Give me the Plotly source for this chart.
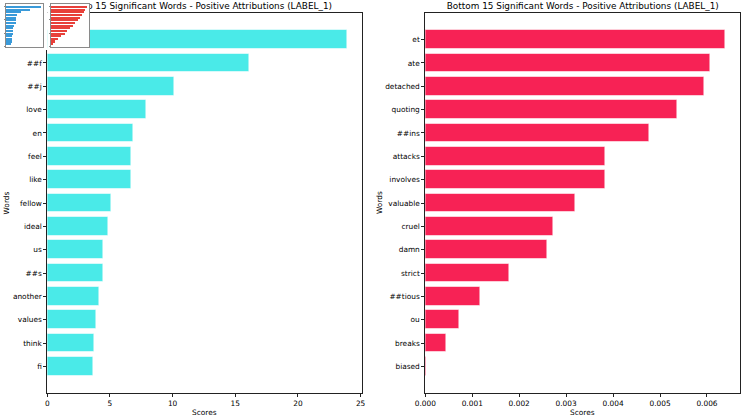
import plotly.graph_objects as go

W, H = 743, 417

# ---------------- data ----------------
top_words = ["good", "##f", "##j", "love", "en", "feel", "like", "fellow", "ideal",
             "us", "##s", "another", "values", "think", "fi"]
top_scores = [23.94, 16.10, 10.10, 7.90, 6.85, 6.72, 6.67, 5.13, 4.89,
              4.49, 4.47, 4.12, 3.88, 3.78, 3.70]

bottom_words = ["et", "ate", "detached", "quoting", "##ins", "attacks", "involves",
                "valuable", "cruel", "damn", "strict", "##tious", "ou", "breaks", "biased"]
bottom_scores = [0.00639, 0.00607, 0.00595, 0.00536, 0.00477, 0.00383, 0.00383,
                 0.00320, 0.00272, 0.00260, 0.00179, 0.00118, 0.00072, 0.00045, 0.00003]

left_title = "Top 15 Significant Words - Positive Attributions (LABEL_1)"
right_title = "Bottom 15 Significant Words - Positive Attributions (LABEL_1)"
x_label = "Scores"
y_label = "Words"

# thumbnails (small images overlapping the top-left corner)
thumb_rank = list(range(15))
thumb_blue_scores = [100, 67, 42, 30, 28.5, 28, 27.5, 21.5, 20.5, 19, 18.5, 17, 16, 15.8, 15.5]
thumb_red_scores = [110, 105, 100, 95, 88, 82, 75, 67, 58, 50, 42, 31, 20, 13, 5]

# ---------------- styling helpers ----------------
def fx(px):
    return px / W

def fy(py):
    return 1 - py / H

FONT = "DejaVu Sans"
TICK = 7.4
CYAN = "#4AEAE8"
RED = "#F72255"

PLOT_TOP, PLOT_BOT = 13, 393
L_X0, L_X1 = 47.3, 362.3
R_X0, R_X1 = 425.3, 740.3

fig = go.Figure()

# main bars
fig.add_trace(go.Bar(x=top_scores, y=top_words, orientation="h", width=0.8,
                     marker=dict(color=CYAN, line=dict(color="rgba(255,255,255,0.55)", width=1)),
                     xaxis="x", yaxis="y", hoverinfo="skip"))
fig.add_trace(go.Bar(x=bottom_scores, y=bottom_words, orientation="h", width=0.8,
                     marker=dict(color=RED, line=dict(color="rgba(255,255,255,0.55)", width=1)),
                     xaxis="x2", yaxis="y2", hoverinfo="skip"))

# titles (as text in thin strips so the thumbnails can cover them)
fig.add_trace(go.Scatter(x=[0.5], y=[0.5], mode="text", text=[left_title],
                         textfont=dict(family=FONT, size=8.9, color="black"),
                         cliponaxis=False, xaxis="x3", yaxis="y3", hoverinfo="skip"))
fig.add_trace(go.Scatter(x=[0.5], y=[0.5], mode="text", text=[right_title],
                         textfont=dict(family=FONT, size=8.9, color="black"),
                         cliponaxis=False, xaxis="x4", yaxis="y4", hoverinfo="skip"))

# thumbnail covers (empty subplots whose white backgrounds hide what lies under)
fig.add_trace(go.Scatter(x=[], y=[], xaxis="x5", yaxis="y5", hoverinfo="skip"))
fig.add_trace(go.Scatter(x=[], y=[], xaxis="x6", yaxis="y6", hoverinfo="skip"))
# thumbnail bars
fig.add_trace(go.Bar(x=thumb_blue_scores, y=thumb_rank, orientation="h", width=0.8,
                     marker=dict(color="#3A9AD9", line=dict(width=0)),
                     xaxis="x7", yaxis="y7", hoverinfo="skip"))
fig.add_trace(go.Bar(x=thumb_red_scores, y=thumb_rank, orientation="h", width=0.8,
                     marker=dict(color="#E8403A", line=dict(width=0)),
                     xaxis="x8", yaxis="y8", hoverinfo="skip"))

def main_x(domain, rng, dtick, fmt):
    return dict(domain=domain, range=rng, dtick=dtick, tick0=0, tickformat=fmt,
                showline=True, linecolor="#222", linewidth=1, mirror=True,
                ticks="outside", ticklen=3, tickwidth=1, tickcolor="#222",
                showgrid=False, zeroline=False, automargin=False,
                tickfont=dict(family=FONT, size=TICK, color="black"))

def main_y(domain, words, anchor):
    return dict(domain=domain, type="category", categoryorder="array",
                categoryarray=words[::-1], range=[-1.14, len(words) - 1 + 1.14],
                showline=True, linecolor="#222", linewidth=1, mirror=True,
                ticks="outside", ticklen=3, tickwidth=1, tickcolor="#222",
                showgrid=False, zeroline=False, anchor=anchor, automargin=False,
                tickfont=dict(family=FONT, size=TICK, color="black"))

hidden = dict(visible=False, showgrid=False, zeroline=False, automargin=False)

ydom = [fy(PLOT_BOT), fy(PLOT_TOP)]
strip = [fy(12.9), 1]

def thumb_x(domain, mx):
    return dict(domain=domain, range=[0, mx * 1.05], showline=True, linecolor="#8a8a8a",
                linewidth=0.5, mirror=True, ticks="outside", ticklen=1, tickwidth=0.5,
                tickcolor="#8a8a8a", showticklabels=False, showgrid=False, zeroline=False,
                automargin=False)

def thumb_y(domain, anchor):
    return dict(domain=domain, range=[14 + 1.14, -1.14], showline=True, linecolor="#8a8a8a",
                linewidth=0.5, mirror=True, ticks="outside", ticklen=1, tickwidth=0.5,
                tickcolor="#8a8a8a", showticklabels=False, showgrid=False, zeroline=False,
                anchor=anchor, automargin=False)

fig.update_layout(
    width=W, height=H, autosize=False,
    margin=dict(l=0, r=0, t=0, b=0, pad=0),
    paper_bgcolor="white", plot_bgcolor="white",
    showlegend=False, bargap=0,
    xaxis=main_x([fx(L_X0), fx(L_X1)], [0, max(top_scores) * 1.05], 5, "d"),
    yaxis=main_y(ydom, top_words, "x"),
    xaxis2=main_x([fx(R_X0), fx(R_X1)], [0, max(bottom_scores) * 1.05], 0.001, ".3f"),
    yaxis2=main_y(ydom, bottom_words, "x2"),
    xaxis3=dict(domain=[fx(L_X0), fx(L_X1)], range=[0, 1], anchor="y3", **hidden),
    yaxis3=dict(domain=strip, range=[0, 1], anchor="x3", **hidden),
    xaxis4=dict(domain=[fx(R_X0), fx(R_X1)], range=[0, 1], anchor="y4", **hidden),
    yaxis4=dict(domain=strip, range=[0, 1], anchor="x4", **hidden),
    xaxis5=dict(domain=[fx(0), fx(47.6)], range=[0, 1], anchor="y5", **hidden),
    yaxis5=dict(domain=[fy(50), fy(0)], range=[0, 1], anchor="x5", **hidden),
    xaxis6=dict(domain=[fx(47.6), fx(90)], range=[0, 1], anchor="y6", **hidden),
    yaxis6=dict(domain=[fy(50), fy(0)], range=[0, 1], anchor="x6", **hidden),
    xaxis7=dict(thumb_x([fx(6), fx(43)], max(thumb_blue_scores)), anchor="y7"),
    yaxis7=thumb_y([fy(46.7), fy(3.5)], "x7"),
    xaxis8=dict(thumb_x([fx(51), fx(88.7)], max(thumb_red_scores)), anchor="y8"),
    yaxis8=thumb_y([fy(46.7), fy(3.5)], "x8"),
)

ann_font = dict(family=FONT, size=TICK, color="black")
fig.add_annotation(text=x_label, x=fx((L_X0 + L_X1) / 2), y=fy(412), xref="paper", yref="paper",
                   showarrow=False, font=ann_font, xanchor="center", yanchor="middle")
fig.add_annotation(text=x_label, x=fx((R_X0 + R_X1) / 2), y=fy(412), xref="paper", yref="paper",
                   showarrow=False, font=ann_font, xanchor="center", yanchor="middle")
fig.add_annotation(text=y_label, x=fx(5.5), y=fy((PLOT_TOP + PLOT_BOT) / 2), xref="paper", yref="paper",
                   showarrow=False, font=ann_font, textangle=-90, xanchor="center", yanchor="middle")
fig.add_annotation(text=y_label, x=fx(379), y=fy((PLOT_TOP + PLOT_BOT) / 2), xref="paper", yref="paper",
                   showarrow=False, font=ann_font, textangle=-90, xanchor="center", yanchor="middle")

fig.write_html("out.html")
